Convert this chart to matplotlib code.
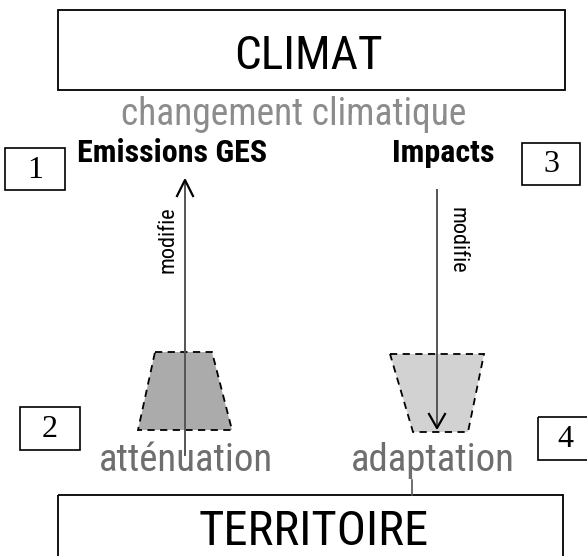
import matplotlib.pyplot as plt
from matplotlib.patches import Rectangle, Polygon

# Texte du schéma
titre_haut = 'CLIMAT'
titre_bas = 'TERRITOIRE'
sous_titre = 'changement climatique'
etiquettes = ['Emissions GES', 'Impacts']
actions = ['atténuation', 'adaptation']
numeros = ['1', '2', '3', '4']
verbe = 'modifie'

# Positions (pixels, origine en haut à gauche)
boites_num = [(5, 148, 60, 42), (20, 407, 60, 43), (522, 143, 58, 42), (538, 417, 55, 43)]
trap_gauche = [(155, 352), (212, 352), (232, 430), (138, 430)]
trap_droite = [(390, 354), (484, 354), (468, 432), (413, 432)]

narrow = ['Liberation Sans Narrow', 'Roboto Condensed', 'DejaVu Sans Condensed', 'Liberation Sans', 'DejaVu Sans']
serif = ['Liberation Serif', 'DejaVu Serif']

fig = plt.figure(figsize=(5.87, 5.56), dpi=100)
ax = fig.add_axes([0, 0, 1, 1])
ax.set_xlim(0, 587)
ax.set_ylim(556, 0)
ax.axis('off')

# Grandes boîtes
ax.add_patch(Rectangle((58, 10), 507, 80, fill=False, ec='black', lw=1.3))
ax.add_patch(Rectangle((58, 495), 505, 70, fill=False, ec='black', lw=1.3))
ax.text(308, 69, titre_haut, family=narrow, fontsize=34, ha='center', va='baseline')
ax.text(314, 545, titre_bas, family=narrow, fontsize=35, ha='center', va='baseline')
ax.text(294, 125, sous_titre, family=narrow, fontsize=27, color='#8c8c8c', ha='center', va='baseline')

# Libellés en gras
ax.text(77, 162, etiquettes[0], family=narrow, fontsize=23, fontweight='bold', ha='left', va='baseline')
ax.text(495, 162, etiquettes[1], family=narrow, fontsize=23, fontweight='bold', ha='right', va='baseline')

# Trapèzes
ax.add_patch(Polygon(trap_gauche, closed=True, fc='#ababab', ec='black', ls=(0, (4, 3)), lw=1.3))
ax.add_patch(Polygon(trap_droite, closed=True, fc='#d2d2d2', ec='black', ls=(0, (4, 3)), lw=1.3))

# Flèches
ax.plot([185, 185], [455, 182], color='#555555', lw=1.4)
ax.plot([177, 185, 193], [196, 180, 196], color='black', lw=1.6)
ax.plot([437, 437], [190, 428], color='#555555', lw=1.4)
ax.plot([429, 437, 445], [414, 428, 414], color='black', lw=1.6)
ax.plot([412, 412], [480, 495], color='#555555', lw=1.2)

ax.text(168, 240, verbe, family=narrow, fontsize=16, rotation=90, ha='center', va='center')
ax.text(457, 240, verbe, family=narrow, fontsize=16, rotation=-90, ha='center', va='center')

# Actions
ax.text(186, 471, actions[0], family=narrow, fontsize=28, color='#6e6e6e', ha='center', va='baseline')
ax.text(433, 471, actions[1], family=narrow, fontsize=28, color='#6e6e6e', ha='center', va='baseline')

# Petites boîtes numérotées
for (x, y, w, h), n in zip(boites_num, numeros):
    ax.add_patch(Rectangle((x, y), w, h, fill=False, ec='black', lw=1.2))
    ax.text(x + w / 2, y + h / 2 + 1, n, family=serif, fontsize=23, ha='center', va='center')

fig.savefig('out.png', dpi=100)
